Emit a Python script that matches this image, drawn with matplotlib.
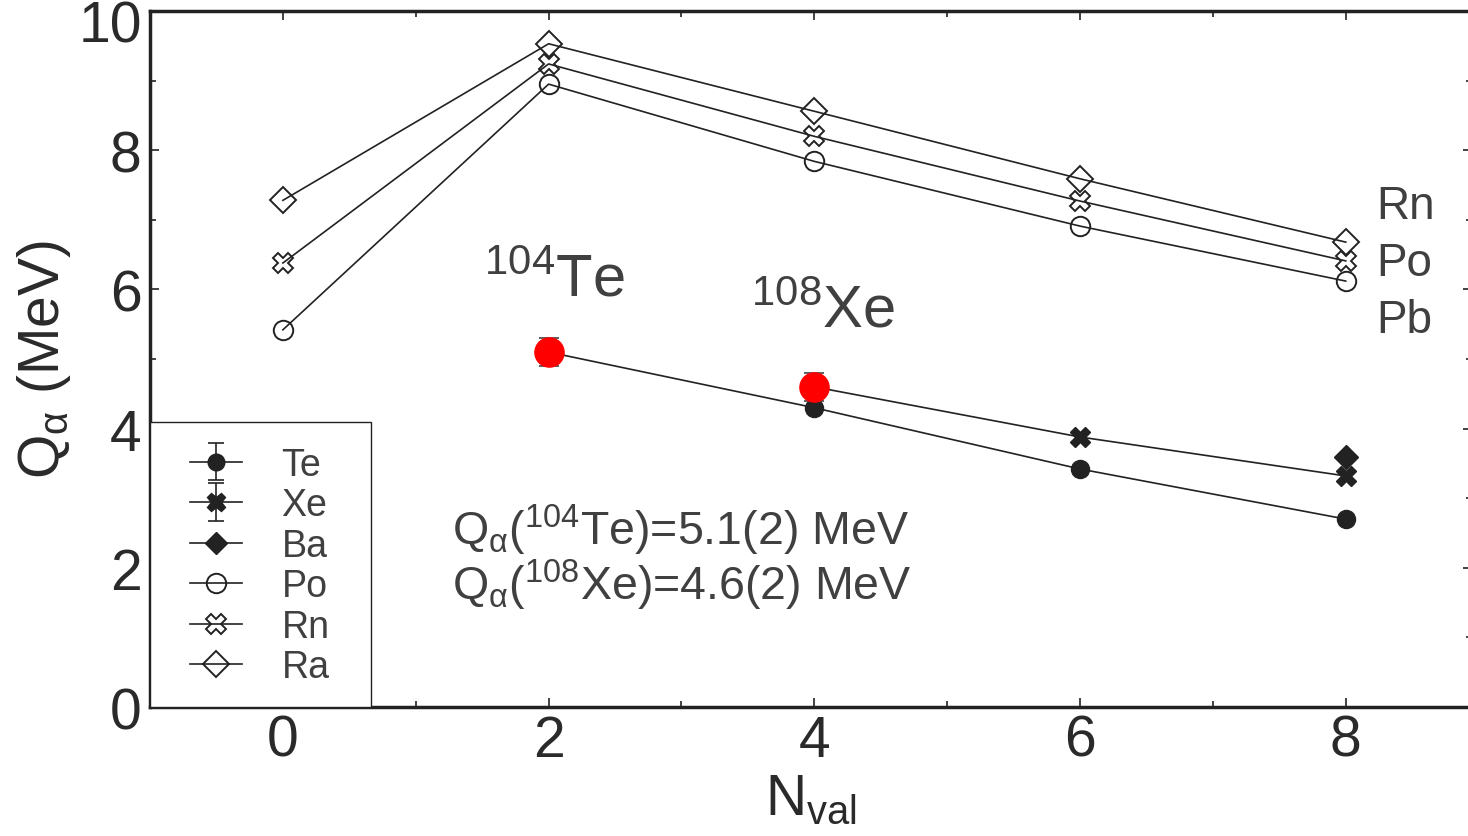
import numpy as np
import matplotlib
matplotlib.use('Agg')
import matplotlib.pyplot as plt
from matplotlib.lines import Line2D
from matplotlib.patches import Rectangle
from matplotlib.ticker import MultipleLocator
from matplotlib.transforms import ScaledTranslation

plt.rcParams['font.family'] = ['Liberation Sans', 'DejaVu Sans']
plt.rcParams['mathtext.fontset'] = 'custom'
plt.rcParams['mathtext.rm'] = 'Liberation Sans'
plt.rcParams['mathtext.it'] = 'Liberation Sans:italic'
plt.rcParams['mathtext.bf'] = 'Liberation Sans:bold'
plt.rcParams['mathtext.default'] = 'regular'

INK = '#222222'
TXT = '#404040'

# valence neutron number for the heavy chains
n_val = [0, 2, 4, 6, 8]
q_ra = [7.28, 9.53, 8.56, 7.59, 6.68]
q_rn = [6.38, 9.24, 8.20, 7.27, 6.41]
q_po = [5.42, 8.95, 7.84, 6.91, 6.12]

# new measurements: 104Te (N_val=2) and 108Xe (N_val=4)
meas_n = [2, 4]
meas_q = [5.1, 4.6]
meas_err = [0.2, 0.2]

# light chains, first point of Te / Xe is the measured value
te_n = [2, 4, 6, 8]
te_q = [meas_q[0], 4.30, 3.42, 2.70]
xe_n = [4, 6, 8]
xe_q = [meas_q[1], 3.88, 3.32]
ba_n = [8]
ba_q = [3.59]

fig = plt.figure(figsize=(14.68, 8.37), dpi=100)
ax = fig.add_axes([0.1022, 0.1541, 0.9005, 0.8315])

lw = 1.2
h_ra, = ax.plot(n_val, q_ra, '-', marker='D', ms=13, mfc='none', mec=INK, mew=1.4, color=INK, lw=lw)
h_rn, = ax.plot(n_val, q_rn, '-', marker='X', ms=15, mfc='none', mec=INK, mew=1.4, color=INK, lw=lw)
h_po, = ax.plot(n_val, q_po, '-', marker='o', ms=14, mfc='none', mec=INK, mew=1.4, color=INK, lw=lw)

ax.plot(te_n, te_q, '-', color=INK, lw=lw)
ax.plot(te_n[1:], te_q[1:], 'o', ms=13, color=INK)
ax.plot(xe_n, xe_q, '-', color=INK, lw=lw)
ax.plot(ba_n, ba_q, 'D', ms=12, color=INK)
ax.plot(xe_n[1:], xe_q[1:], 'X', ms=15, color=INK)

ax.errorbar(meas_n, meas_q, yerr=meas_err, fmt='o', ms=21, color='red',
            ecolor='#444444', elinewidth=1.2, capsize=7.5, capthick=1.2, zorder=5)

# legend entries with error bars for the measured chains
h_te = ax.errorbar([np.nan], [np.nan], yerr=[0.2], fmt='o-', color=INK, ms=12,
                   lw=lw, capsize=6, capthick=1.2)
h_xe = ax.errorbar([np.nan], [np.nan], yerr=[0.2], fmt='X-', color=INK, ms=13,
                   lw=lw, capsize=6, capthick=1.2)
h_ba = Line2D([], [], marker='D', ms=11, color=INK, lw=lw)

ax.add_patch(Rectangle((0, 0), 0.167, 0.4095, transform=ax.transAxes,
                       facecolor='white', edgecolor=INK, lw=1.0, zorder=4))
leg = ax.legend([h_te, h_xe, h_ba, h_po, h_rn, h_ra],
                ['Te', 'Xe', 'Ba', 'Po', 'Rn', 'Ra'],
                loc='upper left', bbox_to_anchor=(0.030, 0.374),
                borderaxespad=0, borderpad=0, frameon=False,
                fontsize=27, labelspacing=0.12, handlelength=1.4,
                handletextpad=1.05, labelcolor=TXT)
leg.set_zorder(6)

ax.set_xlim(-1.0, 8.95)
ax.set_ylim(0, 10)
ax.set_xticks([0, 2, 4, 6, 8])
ax.set_yticks([0, 2, 4, 6, 8, 10])
ax.xaxis.set_minor_locator(MultipleLocator(1))
ax.yaxis.set_minor_locator(MultipleLocator(1))
ax.tick_params(which='both', direction='in', top=True, right=True,
               colors=INK, width=1.2, labelcolor='#2a2a2a')
ax.tick_params(which='major', length=6.5, labelsize=41)
ax.tick_params(which='minor', length=4.3)
ax.tick_params(axis='x', pad=5)
ax.tick_params(axis='y', pad=6)
for s in ax.spines.values():
    s.set_linewidth(2.5)
    s.set_color(INK)

# nudge the topmost y label down so it stays inside the figure
top_lab = ax.get_yticklabels()[-1]
top_lab.set_transform(top_lab.get_transform() + ScaledTranslation(0, -7 / 72, fig.dpi_scale_trans))

ax.set_xlabel(r'N$_{\mathrm{val}}$', fontsize=41, color='#2a2a2a', labelpad=3)
ax.set_ylabel(r'Q$_{\alpha}$ (MeV)', fontsize=41, color='#2a2a2a')

ax.text(1.514, 5.92, r'$^{104}$Te', fontsize=43, color=TXT)
ax.text(3.525, 5.47, r'$^{108}$Xe', fontsize=43, color=TXT)

for nuc, el, q, e, y in [('104', 'Te', meas_q[0], meas_err[0], 2.34),
                         ('108', 'Xe', meas_q[1], meas_err[1], 1.55)]:
    ax.text(1.27, y, r'Q$_{\alpha}$($^{%s}$%s)=%.1f(%d) MeV' % (nuc, el, q, round(e * 10)),
            fontsize=33.5, color=TXT)

for lab, y in [('Rn', 7.03), ('Po', 6.21), ('Pb', 5.39)]:
    ax.text(8.23, y, lab, fontsize=33, color=TXT, clip_on=False)

fig.savefig('out.png', dpi=100)
